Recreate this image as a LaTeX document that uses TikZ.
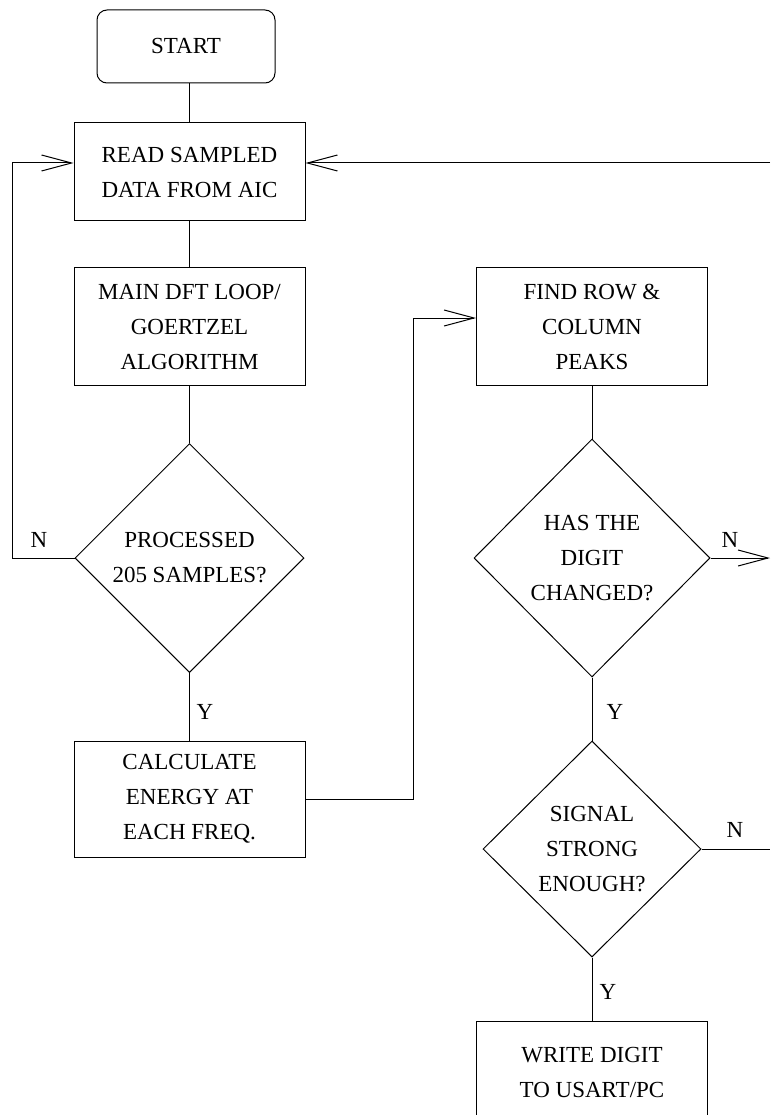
\documentclass[tikz,border=0pt]{standalone}
\usepackage{fontspec}
\setmainfont{Liberation Serif}
\usepackage{tikz}
\usetikzlibrary{arrows.meta,positioning,shapes.geometric,calc}

\begin{document}
\begin{tikzpicture}[
  x=1pt, y=-1pt,
  font=\fontsize{23}{35}\selectfont,
  >={Straight Barb[length=30pt,width=16pt]},
  line width=1pt,
  box/.style={draw, minimum width=231pt, minimum height=118pt,
    align=center, inner sep=0pt},
  term/.style={box, rounded corners=10pt, minimum width=178pt, minimum height=73pt},
  dec/.style={diamond, draw, aspect=1, inner sep=0pt, align=center},
  e/.style={->},
  lbl/.style={inner sep=0pt},
]
\clip (0,0) rectangle (771,1115);

\coordinate (lft) at (12,0);
\coordinate (mid) at (413,0);
\coordinate (rgt) at (770,0);

\node[term] (start) at (186,46.5) {START};
\node[box, minimum height=98pt] (read) at (189.5,172) {READ SAMPLED\\DATA FROM AIC};
\node[box] (main) at (189.5,326.5) {MAIN DFT LOOP/\\GOERTZEL\\ALGORITHM};
\node[dec, minimum width=229pt, minimum height=229pt] (proc) at (189.5,558)
  {PROCESSED\\205 SAMPLES?};
\node[box, minimum height=116pt] (calc) at (189.5,799) {CALCULATE\\ENERGY AT\\EACH FREQ.};

\node[box] (find) at (592,326.5) {FIND ROW \&\\COLUMN\\PEAKS};
\node[dec, minimum width=236pt, minimum height=238pt] (digit) at (592,558)
  {HAS THE\\DIGIT\\CHANGED?};
\node[dec, minimum width=218pt, minimum height=216pt] (signal) at (592,849)
  {SIGNAL\\STRONG\\ENOUGH?};
\node[box, minimum height=103pt] (write) at (592,1072.5) {WRITE DIGIT\\TO USART/PC};

% left column
\draw (read.north) -- (read.north |- start.south);
\draw (read.south) -- (main.north);
\draw (main.south) -- (proc.north);
\draw[e] (proc.west) -- (proc.west -| lft) |- ([yshift=9pt]read.west);
\draw (proc.south) -- (calc.north);
\draw[e] (calc.east) -- (calc.east -| mid) |- ([yshift=8.5pt]find.west);

% right column
\draw (find.south) -- (digit.north);
\draw[e] (digit.east) -- (digit.east -| rgt);
\draw (digit.south) -- (signal.north);
\draw (signal.east) -- (signal.east -| rgt);
\draw (signal.south) -- (write.north);
\draw[e] ([yshift=9pt]read.east -| rgt) -- ([yshift=9pt]read.east);

\node[lbl] (n1) at (39,540) {N};
\node[lbl] (y1) at (205,712) {Y};
\node[lbl] (n2) at (730,540) {N};
\node[lbl] (y2) at (615,712) {Y};
\node[lbl] (n3) at (735,830) {N};
\node[lbl] (y3) at (608,992) {Y};
\end{tikzpicture}
\end{document}
